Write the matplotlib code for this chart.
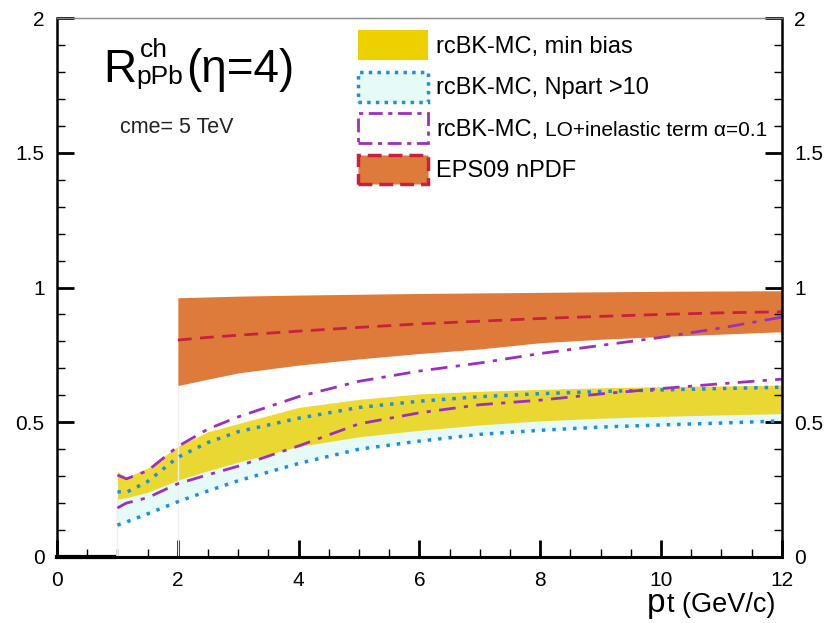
import matplotlib.pyplot as plt
from matplotlib.patches import Patch
from matplotlib.ticker import MultipleLocator

plt.rcParams['font.family'] = ['Liberation Sans', 'DejaVu Sans']
plt.rcParams['mathtext.fontset'] = 'custom'
plt.rcParams['mathtext.rm'] = 'Liberation Sans'

# rcBK-MC curves
pt = [1, 1.15, 1.5, 2, 2.5, 3, 4, 5, 6, 7, 8, 9, 10, 11, 12]
mb_hi = [0.317, 0.296, 0.33, 0.41, 0.465, 0.495, 0.555, 0.585, 0.605, 0.615, 0.622, 0.628, 0.632, 0.635, 0.638]
mb_lo = [0.215, 0.22, 0.24, 0.285, 0.32, 0.352, 0.41, 0.446, 0.47, 0.49, 0.505, 0.515, 0.522, 0.527, 0.532]
np_hi = [0.242, 0.24, 0.28, 0.37, 0.425, 0.465, 0.515, 0.555, 0.578, 0.595, 0.606, 0.614, 0.62, 0.625, 0.63]
np_lo = [0.118, 0.13, 0.16, 0.205, 0.245, 0.283, 0.347, 0.40, 0.43, 0.455, 0.47, 0.482, 0.49, 0.497, 0.505]
inel_hi = [0.304, 0.29, 0.32, 0.41, 0.475, 0.52, 0.595, 0.652, 0.69, 0.72, 0.755, 0.785, 0.815, 0.85, 0.89]
inel_lo = [0.182, 0.2, 0.22, 0.272, 0.305, 0.337, 0.412, 0.494, 0.535, 0.565, 0.582, 0.605, 0.625, 0.643, 0.66]

# EPS09 nPDF
pt_eps = [2, 2.5, 3, 4, 5, 6, 7, 8, 9, 10, 11, 12]
eps_hi = [0.962, 0.965, 0.968, 0.972, 0.975, 0.978, 0.98, 0.982, 0.984, 0.986, 0.987, 0.988]
eps_lo = [0.636, 0.66, 0.683, 0.712, 0.735, 0.755, 0.772, 0.795, 0.808, 0.818, 0.827, 0.836]
eps_c = [0.805, 0.815, 0.823, 0.838, 0.852, 0.865, 0.875, 0.885, 0.893, 0.9, 0.906, 0.91]

zero_x = [0, 0.95]
zero_y = [0, 0]

yellow = '#ecd000'
cyan = '#e6faf7'
blue = '#1f8ee0'
purple = '#9a30c0'
orange = '#df7b3a'
crimson = '#c8203f'

fig = plt.figure(figsize=(8.3, 6.23), dpi=100)
ax = fig.add_axes([0.0687, 0.106, 0.8733, 0.865])

ax.fill_between(pt, np_lo, np_hi, color=cyan, lw=0)
ax.fill_between(pt, mb_lo, mb_hi, color=yellow, alpha=0.8, lw=0)
ax.fill_between(pt_eps, eps_lo, eps_hi, color=orange, lw=0)

# faint edges of the fills
ax.plot([1, 1], [0, mb_lo[0]], color='#eeeeee', lw=1)
ax.plot([2, 2], [0, eps_lo[0]], color='#eeeeee', lw=1)

ax.plot(pt, np_hi, color=blue, lw=2.5, ls=(0, (1, 2)))
ax.plot(pt, np_lo, color=blue, lw=2.5, ls=(0, (1, 2)))
ax.plot(pt, inel_hi, color=purple, lw=2, ls=(0, (6, 3, 1.5, 3)))
ax.plot(pt, inel_lo, color=purple, lw=2, ls=(0, (6, 3, 1.5, 3)))
ax.plot(pt_eps, eps_c, color=crimson, lw=2, ls=(0, (5, 3)))
ax.plot(zero_x, zero_y, color='black', lw=3, clip_on=False)

ax.set_xlim(0, 12)
ax.set_ylim(0, 2)
ax.xaxis.set_minor_locator(MultipleLocator(0.5))
ax.yaxis.set_minor_locator(MultipleLocator(0.1))
ax.set_xticks([0, 2, 4, 6, 8, 10, 12])
ax.set_xticklabels(['0', '2', '4', '6', '8', '10', '12'])
ax.set_yticks([0, 0.5, 1, 1.5, 2])
ax.set_yticklabels(['0', '0.5', '1', '1.5', '2'])
ax.tick_params(which='both', direction='in', labelsize=15, right=True, labelright=True, top=False)
ax.tick_params(which='major', length=12, width=2)
ax.tick_params(which='minor', length=6, width=1)
ax.tick_params(axis='x', pad=10)
ax.tick_params(axis='y', pad=9)

ax.spines['bottom'].set_linewidth(2.2)
ax.spines['right'].set_linewidth(1.8)
ax.spines['left'].set_linewidth(1.8)
ax.spines['top'].set_linewidth(1)
ax.spines['top'].set_color('#888888')

# R^ch_pPb(eta=4) built from pieces
big_r = ax.text(0.761, 1.763, 'R', fontsize=33, va='baseline')
sub = ax.annotate('pPb', xy=(1, 0), xycoords=big_r, xytext=(0, 2), textcoords='offset points',
                  fontsize=19, va='bottom')
ax.annotate('ch', xy=(1, 1), xycoords=big_r, xytext=(3, -6.5), textcoords='offset points',
            fontsize=19, va='baseline')
ax.annotate('(\u03b7=4)', xy=(1, 0), xycoords=sub, xytext=(2, -2), textcoords='offset points',
            fontsize=33, va='bottom')
ax.text(1.04, 1.595, 'cme= 5 TeV', fontsize=15.5, va='center', color='#222222')

rest = fig.text(0.934, 0.0177, 't (GeV/c)', fontsize=19.5, ha='right', va='baseline')
ax.annotate(r'$\mathregular{p}$', xy=(0, 0), xycoords=rest, xytext=(-1, 4.1),
            textcoords='offset points', fontsize=24, ha='right', va='baseline',
            annotation_clip=False)

handles = [
    Patch(facecolor=yellow, edgecolor='none'),
    Patch(facecolor=cyan, edgecolor=blue, ls=(0, (1, 1.5)), lw=2.5),
    Patch(facecolor='white', edgecolor=purple, ls=(0, (5, 2, 1.5, 2)), lw=2),
    Patch(facecolor=orange, edgecolor=crimson, ls=(0, (4, 2)), lw=2.5),
]
labels = ['rcBK-MC, min bias', 'rcBK-MC, Npart >10', 'rcBK-MC,', 'EPS09 nPDF']
leg = ax.legend(handles, labels, loc='upper left', bbox_to_anchor=(0.402, 0.995),
                borderaxespad=0, frameon=False, fontsize=17, handlelength=2.95,
                handleheight=1.57, labelspacing=0.49, handletextpad=0.38)
# rest of the third label, in a smaller font, drawn after the legend
ax.annotate('LO+inelastic term \u03b1=0.1', xy=(1, 0), xycoords=leg.get_texts()[2],
            xytext=(5, 0.6), textcoords='offset points', fontsize=15, va='bottom', zorder=10)

fig.savefig('out.png', dpi=100)
